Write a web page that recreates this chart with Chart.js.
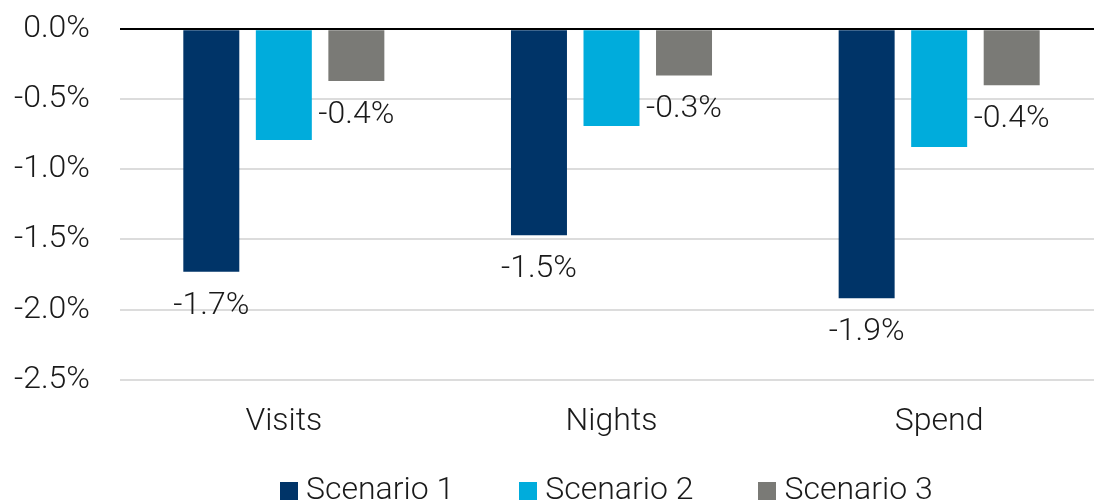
<!DOCTYPE html>
<html>
<head>
<meta charset="utf-8">
<script src="https://cdn.jsdelivr.net/npm/chart.js@4"></script>
<style>
    html, body { margin: 0; padding: 0; background: #fff; overflow: hidden; }
    #wrap { position: relative; width: 1103px; height: 504px; }
    #legend {
        position: absolute; left: 280px; top: 472px;
        display: flex; gap: 65px;
        font-family: Roboto, 'Noto Sans', sans-serif; font-weight: 300;
        font-size: 32px; line-height: 32px; color: #1a1a1a;
    }
    #legend .item { display: flex; align-items: flex-start; white-space: nowrap; }
    #legend .swatch { width: 18px; height: 18px; margin-top: 10px; margin-right: 8px; }
</style>
</head>
<body>
<div id="wrap">
    <canvas id="impactChart" width="1103" height="504"></canvas>
    <div id="legend"></div>
</div>
<script>
const categories = ['Visits', 'Nights', 'Spend'];
const scenario1 = [-1.73, -1.47, -1.92];
const scenario2 = [-0.79, -0.69, -0.84];
const scenario3 = [-0.37, -0.33, -0.40];
const seriesNames = ['Scenario 1', 'Scenario 2', 'Scenario 3'];
const seriesColors = ['#003468', '#00acdc', '#7a7a76'];
const labelledSeries = [0, 2];

const FONT = "Roboto, 'Noto Sans', sans-serif";

// value labels under the bars of scenario 1 and 3
const barLabels = {
    id: 'barLabels',
    afterDatasetsDraw(chart) {
        const ctx = chart.ctx;
        ctx.save();
        ctx.font = '300 32px ' + FONT;
        ctx.fillStyle = '#1a1a1a';
        ctx.textAlign = 'center';
        ctx.textBaseline = 'alphabetic';
        labelledSeries.forEach(i => {
            const meta = chart.getDatasetMeta(i);
            meta.data.forEach((bar, j) => {
                const v = chart.data.datasets[i].data[j];
                ctx.fillText(v.toFixed(1) + '%', bar.x, bar.y + 42);
            });
        });
        ctx.restore();
    }
};

const ctx = document.getElementById('impactChart').getContext('2d');
const chart = new Chart(ctx, {
    type: 'bar',
    data: {
        labels: categories,
        datasets: [scenario1, scenario2, scenario3].map((d, i) => ({
            label: seriesNames[i],
            data: d,
            backgroundColor: seriesColors[i]
        }))
    },
    options: {
        responsive: false,
        animation: false,
        layout: { padding: { top: 0, left: 0, right: 0, bottom: 40 } },
        datasets: {
            bar: { categoryPercentage: 0.664, barPercentage: 0.772 }
        },
        scales: {
            x: {
                grid: { display: false, drawTicks: false },
                border: { display: false },
                ticks: { color: '#1a1a1a', font: { family: FONT, size: 32, weight: 300 }, padding: 23 }
            },
            y: {
                min: -2.5,
                max: 0,
                afterFit: (scale) => { scale.width = 120; },
                grid: {
                    drawTicks: true,
                    tickLength: 20,
                    tickColor: 'rgba(0,0,0,0)',
                    color: c => c.tick.value === 0 ? '#000000' : '#dcdcdc',
                    lineWidth: 2
                },
                border: { display: false },
                ticks: {
                    stepSize: 0.5,
                    padding: 10,
                    color: '#1a1a1a',
                    font: { family: FONT, size: 32, weight: 300 },
                    callback: v => v.toFixed(1) + '%'
                }
            }
        },
        plugins: {
            legend: { display: false },
            tooltip: { enabled: false }
        }
    },
    plugins: [barLabels]
});

// legend built from the chart's own datasets
const legendEl = document.getElementById('legend');
chart.data.datasets.forEach(ds => {
    const item = document.createElement('div');
    item.className = 'item';
    const sw = document.createElement('span');
    sw.className = 'swatch';
    sw.style.background = ds.backgroundColor;
    const txt = document.createElement('span');
    txt.textContent = ds.label;
    item.appendChild(sw);
    item.appendChild(txt);
    legendEl.appendChild(item);
});
</script>
</body>
</html>
